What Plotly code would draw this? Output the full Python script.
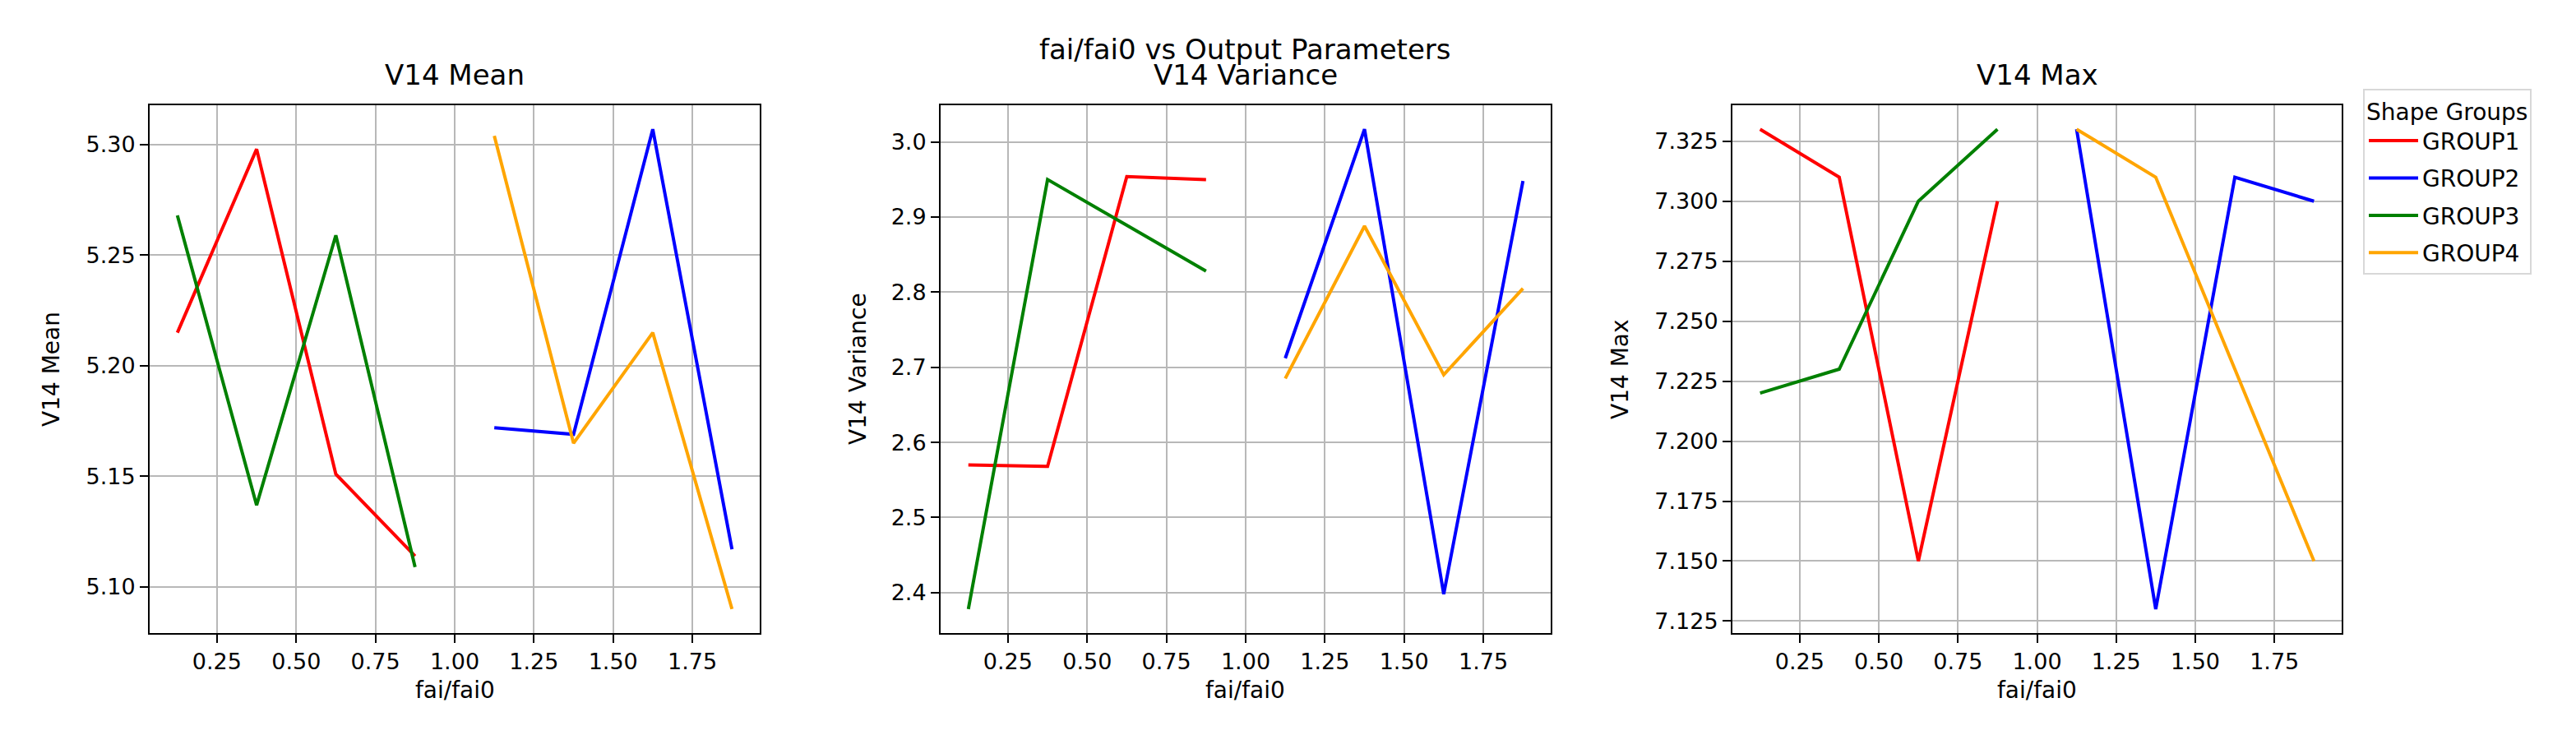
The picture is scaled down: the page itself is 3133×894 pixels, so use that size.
import plotly.graph_objects as go

# ---------------- data ----------------
x_left = [0.125, 0.375, 0.625, 0.875]
x_right = [1.125, 1.375, 1.625, 1.875]
groups = ["GROUP1", "GROUP2", "GROUP3", "GROUP4"]
group_x = {"GROUP1": x_left, "GROUP2": x_right, "GROUP3": x_left, "GROUP4": x_right}
colors = {"GROUP1": "red", "GROUP2": "blue", "GROUP3": "green", "GROUP4": "orange"}

mean_g1 = [5.215, 5.298, 5.151, 5.114]
mean_g2 = [5.172, 5.169, 5.307, 5.117]
mean_g3 = [5.268, 5.137, 5.259, 5.109]
mean_g4 = [5.304, 5.165, 5.215, 5.090]

var_g1 = [2.570, 2.568, 2.954, 2.950]
var_g2 = [2.712, 3.017, 2.398, 2.948]
var_g3 = [2.378, 2.950, 2.889, 2.828]
var_g4 = [2.685, 2.888, 2.690, 2.805]

max_g1 = [7.33, 7.31, 7.15, 7.30]
max_g2 = [7.33, 7.13, 7.31, 7.30]
max_g3 = [7.22, 7.23, 7.30, 7.33]
max_g4 = [7.33, 7.31, 7.23, 7.15]

panels = [
    ("V14 Mean", {"GROUP1": mean_g1, "GROUP2": mean_g2, "GROUP3": mean_g3, "GROUP4": mean_g4}, 0.05, ".2f"),
    ("V14 Variance", {"GROUP1": var_g1, "GROUP2": var_g2, "GROUP3": var_g3, "GROUP4": var_g4}, 0.1, ".1f"),
    ("V14 Max", {"GROUP1": max_g1, "GROUP2": max_g2, "GROUP3": max_g3, "GROUP4": max_g4}, 0.025, ".3f"),
]
x_ticks = [0.25, 0.50, 0.75, 1.00, 1.25, 1.50, 1.75]
suptitle = "fai/fai0 vs Output Parameters"
x_label = "fai/fai0"
legend_title = "Shape Groups"

# ---------------- layout geometry ----------------
W, H = 3133, 894
FONT = "DejaVu Sans"
px_domains = [(174, 916), (1136, 1878), (2099, 2840)]
ylab_px = [54, 1035, 1962]
top_px, bot_px = 120, 762
ydom = [1 - bot_px / H, 1 - top_px / H]

fig = go.Figure()
annotations = []
layout_axes = {}

for i, (title, series, dtick, fmt) in enumerate(panels):
    n = "" if i == 0 else str(i + 1)
    for g in groups:
        fig.add_trace(go.Scatter(
            x=group_x[g], y=series[g], mode="lines", name=g,
            line=dict(color=colors[g], width=4),
            xaxis="x" + n, yaxis="y" + n,
            showlegend=(i == 2), legendgroup=g,
        ))
    allv = [v for g in groups for v in series[g]]
    lo, hi = min(allv), max(allv)
    pad = (hi - lo) * 0.05
    xd = [px_domains[i][0] / W, px_domains[i][1] / W]
    common = dict(
        showline=True, linecolor="black", linewidth=2, mirror=True,
        ticks="outside", ticklen=10, tickwidth=2, tickcolor="black",
        showgrid=True, gridcolor="#b8b8b8", gridwidth=2,
        zeroline=False, tickfont=dict(family=FONT, size=27, color="black"),
    )
    layout_axes["xaxis" + n] = dict(
        domain=xd, anchor="y" + n, range=[0.0375, 1.9625],
        tickvals=x_ticks, tickformat=".2f", **common)
    layout_axes["yaxis" + n] = dict(
        domain=ydom, anchor="x" + n, range=[lo - pad, hi + pad],
        dtick=dtick, tick0=0, tickformat=fmt, **common)
    cx = (xd[0] + xd[1]) / 2
    annotations.append(dict(text=title, x=cx, y=1 - 105 / H, xref="paper", yref="paper",
                            xanchor="center", yanchor="bottom", showarrow=False,
                            font=dict(family=FONT, size=34, color="black")))
    annotations.append(dict(text=x_label, x=cx, y=1 - 831 / H, xref="paper", yref="paper",
                            xanchor="center", yanchor="middle", showarrow=False,
                            font=dict(family=FONT, size=28, color="black")))
    annotations.append(dict(text=title, x=ylab_px[i] / W, y=1 - 441 / H, xref="paper", yref="paper",
                            xanchor="center", yanchor="middle", showarrow=False, textangle=-90,
                            font=dict(family=FONT, size=28, color="black")))

annotations.append(dict(text=suptitle, x=1506 / W, y=1 - 74 / H, xref="paper", yref="paper",
                        xanchor="center", yanchor="bottom", showarrow=False,
                        font=dict(family=FONT, size=34, color="black")))

fig.update_layout(
    width=W, height=H,
    margin=dict(l=0, r=0, t=0, b=0, autoexpand=False),
    paper_bgcolor="white", plot_bgcolor="white",
    font=dict(family=FONT, size=28, color="black"),
    annotations=annotations,
    legend=dict(
        title=dict(text=legend_title, font=dict(family=FONT, size=28)),
        x=2866 / W, y=1 - 100 / H, xanchor="left", yanchor="top",
        bordercolor="#d8d8d8", borderwidth=2, bgcolor="white",
        itemwidth=60, tracegroupgap=6,
        font=dict(family=FONT, size=28, color="black"),
    ),
    **layout_axes,
)

fig.write_html("out.html")
